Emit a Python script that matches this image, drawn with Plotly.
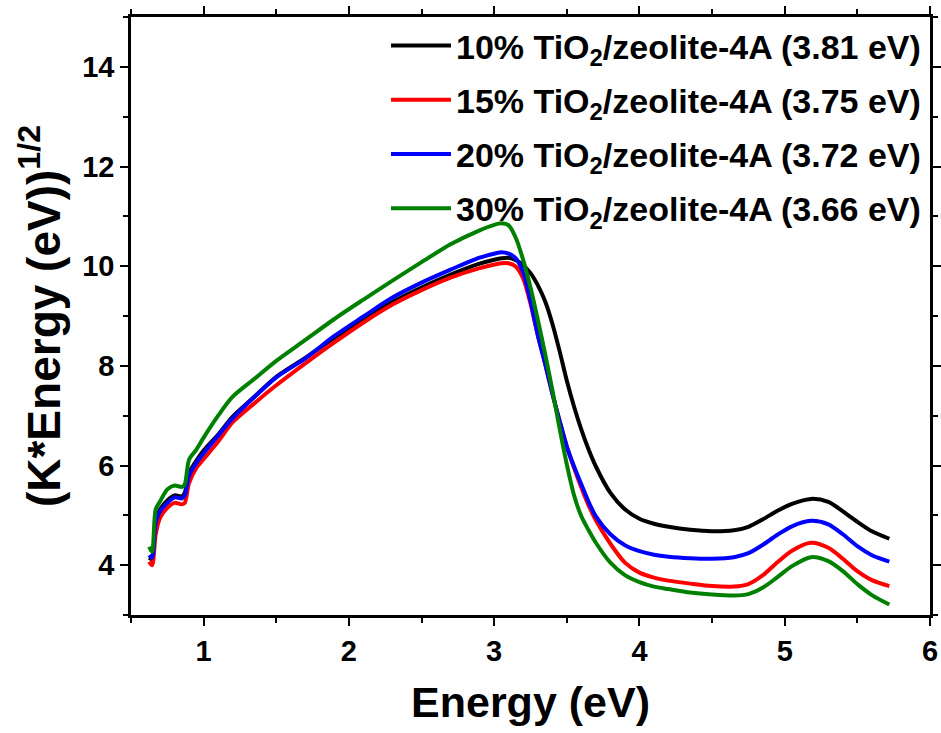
import plotly.graph_objects as go

# Photon energy (eV) sampled along the spectra
energy = [0.625, 0.645, 0.67, 0.70, 0.75, 0.80, 0.85, 0.87, 0.90, 0.95,
          1.0, 1.1, 1.2, 1.35, 1.5, 1.7, 1.9, 2.1, 2.3, 2.5,
          2.7, 2.9, 3.0, 3.05, 3.1, 3.15, 3.2, 3.25, 3.3, 3.35,
          3.4, 3.45, 3.5, 3.55, 3.6, 3.65, 3.7, 3.8, 3.9, 4.0,
          4.1, 4.2, 4.35, 4.5, 4.65, 4.75, 4.85, 4.95, 5.05, 5.18,
          5.3, 5.4, 5.5, 5.6, 5.72]

# Tauc values (K*E)^1/2 for each TiO2 loading
tio2_10 = [4.15, 4.12, 4.92, 5.12, 5.30, 5.40, 5.38, 5.45, 5.85, 6.10,
           6.30, 6.62, 6.98, 7.38, 7.78, 8.16, 8.56, 8.93, 9.28, 9.57,
           9.83, 10.05, 10.13, 10.16, 10.17, 10.12, 10.02, 9.86, 9.62, 9.30,
           8.85, 8.30, 7.70, 7.18, 6.72, 6.32, 5.98, 5.45, 5.12, 4.93,
           4.83, 4.77, 4.71, 4.68, 4.70, 4.77, 4.92, 5.09, 5.23, 5.33,
           5.27, 5.08, 4.87, 4.68, 4.53]

tio2_15 = [4.07, 4.00, 4.62, 4.95, 5.15, 5.25, 5.22, 5.25, 5.65, 5.95,
           6.13, 6.48, 6.87, 7.25, 7.61, 8.05, 8.47, 8.87, 9.23, 9.52,
           9.77, 9.96, 10.03, 10.06, 10.06, 9.99, 9.75, 9.25, 8.62, 8.05,
           7.45, 6.90, 6.38, 5.95, 5.56, 5.20, 4.90, 4.43, 4.05, 3.85,
           3.75, 3.69, 3.63, 3.58, 3.57, 3.62, 3.80, 4.06, 4.29, 4.45,
           4.35, 4.13, 3.88, 3.70, 3.58]

tio2_20 = [4.20, 4.15, 4.85, 5.08, 5.25, 5.36, 5.34, 5.40, 5.80, 6.05,
           6.25, 6.60, 6.95, 7.38, 7.77, 8.15, 8.60, 8.99, 9.37, 9.67,
           9.93, 10.17, 10.25, 10.28, 10.25, 10.15, 9.87, 9.30, 8.62, 8.05,
           7.45, 6.90, 6.38, 5.98, 5.62, 5.27, 4.98, 4.62, 4.40, 4.28,
           4.21, 4.17, 4.14, 4.13, 4.16, 4.24, 4.41, 4.61, 4.78, 4.89,
           4.82, 4.62, 4.38, 4.20, 4.07]

tio2_30 = [4.37, 4.27, 5.12, 5.28, 5.52, 5.60, 5.57, 5.62, 6.12, 6.32,
           6.56, 7.00, 7.38, 7.74, 8.10, 8.52, 8.94, 9.33, 9.71, 10.08,
           10.44, 10.72, 10.83, 10.86, 10.82, 10.56, 10.12, 9.57, 8.93, 8.25,
           7.52, 6.75, 6.02, 5.40, 4.98, 4.70, 4.45, 4.05, 3.80, 3.66,
           3.57, 3.52, 3.45, 3.41, 3.39, 3.42, 3.55, 3.76, 3.98, 4.16,
           4.08, 3.88, 3.62, 3.40, 3.21]

labels = [
    "10% TiO<sub>2</sub>/zeolite-4A (3.81 eV)",
    "15% TiO<sub>2</sub>/zeolite-4A (3.75 eV)",
    "20% TiO<sub>2</sub>/zeolite-4A (3.72 eV)",
    "30% TiO<sub>2</sub>/zeolite-4A (3.66 eV)",
]
series = [tio2_10, tio2_15, tio2_20, tio2_30]
colors = ["#000000", "#ff0000", "#0000ff", "#008000"]

FONT = "Liberation Sans, Arial, sans-serif"

fig = go.Figure()
for i, (name, ys, col) in enumerate(zip(labels, series, colors)):
    fig.add_trace(go.Scatter(
        x=energy, y=ys, mode="lines", name=name,
        line=dict(color=col, width=4, shape="spline", smoothing=0.8),
        legendgroup=str(i),
    ))

axis_common = dict(
    showline=True, linecolor="black", linewidth=2.5, mirror="ticks",
    ticks="outside", ticklen=8, tickwidth=2, tickcolor="black",
    showgrid=False, zeroline=False, automargin=False,
    tickfont=dict(family=FONT, size=29, color="black", weight="bold"),
)

fig.update_xaxes(
    range=[0.5, 6], dtick=1, tick0=0,
    minor=dict(dtick=0.5, ticks="outside", ticklen=5, tickwidth=2, tickcolor="black"),
    title=dict(text="<b>Energy (eV)</b>", font=dict(family=FONT, size=43, color="black"),
               standoff=22),
    **axis_common,
)
fig.update_yaxes(
    range=[3, 15], dtick=2, tick0=0,
    minor=dict(dtick=1, ticks="outside", ticklen=5, tickwidth=2, tickcolor="black"),
    title=dict(text="<b>(K*Energy (eV))<sup>1/2</sup></b>",
               font=dict(family=FONT, size=46, color="black"), standoff=8),
    **axis_common,
)

fig.update_layout(
    width=941, height=733,
    margin=dict(l=131, r=11, t=17, b=118),
    plot_bgcolor="white", paper_bgcolor="white",
    showlegend=True,
    legend=dict(
        x=0.995, y=1.0, xanchor="right", yanchor="top",
        bgcolor="rgba(0,0,0,0)", borderwidth=0,
        font=dict(family=FONT, size=34, color="black", weight="bold"),
        tracegroupgap=7, itemwidth=60,
    ),
)

fig.write_html("out.html")
